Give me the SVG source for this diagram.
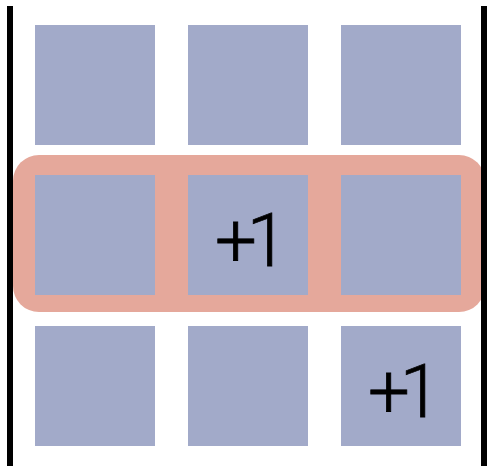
<svg xmlns="http://www.w3.org/2000/svg" width="487" height="466" viewBox="0 0 487 466">
<style>
.sq{fill:#a2aac9}
.bar{fill:#000}
.lbl{font-family:Roboto,"Liberation Sans",sans-serif;font-weight:300;font-size:74px;letter-spacing:-10px;fill:#000;stroke:#000;stroke-width:0.8}
</style>
<rect x="0" y="0" width="487" height="466" fill="#fff"/>
<g id="highlight"><rect x="13" y="155" width="472" height="157" rx="26" ry="26" fill="#e5a89b"/></g>
<g id="r0c0"><rect class="sq" x="35" y="25" width="120" height="120"/></g>
<g id="r0c1"><rect class="sq" x="188" y="25" width="120" height="120"/></g>
<g id="r0c2"><rect class="sq" x="341" y="25" width="120" height="120"/></g>
<g id="r1c0"><rect class="sq" x="35" y="175" width="120" height="120"/></g>
<g id="r1c1"><rect class="sq" x="188" y="175" width="120" height="120"/><text class="lbl" x="215" y="266">+1</text></g>
<g id="r1c2"><rect class="sq" x="341" y="175" width="120" height="120"/></g>
<g id="r2c0"><rect class="sq" x="35" y="326" width="120" height="120"/></g>
<g id="r2c1"><rect class="sq" x="188" y="326" width="120" height="120"/></g>
<g id="r2c2"><rect class="sq" x="341" y="326" width="120" height="120"/><text class="lbl" x="368" y="417">+1</text></g>
<g id="bars"><rect class="bar" x="7" y="6" width="6" height="460"/><rect class="bar" x="481" y="6" width="6" height="460"/></g>
</svg>
